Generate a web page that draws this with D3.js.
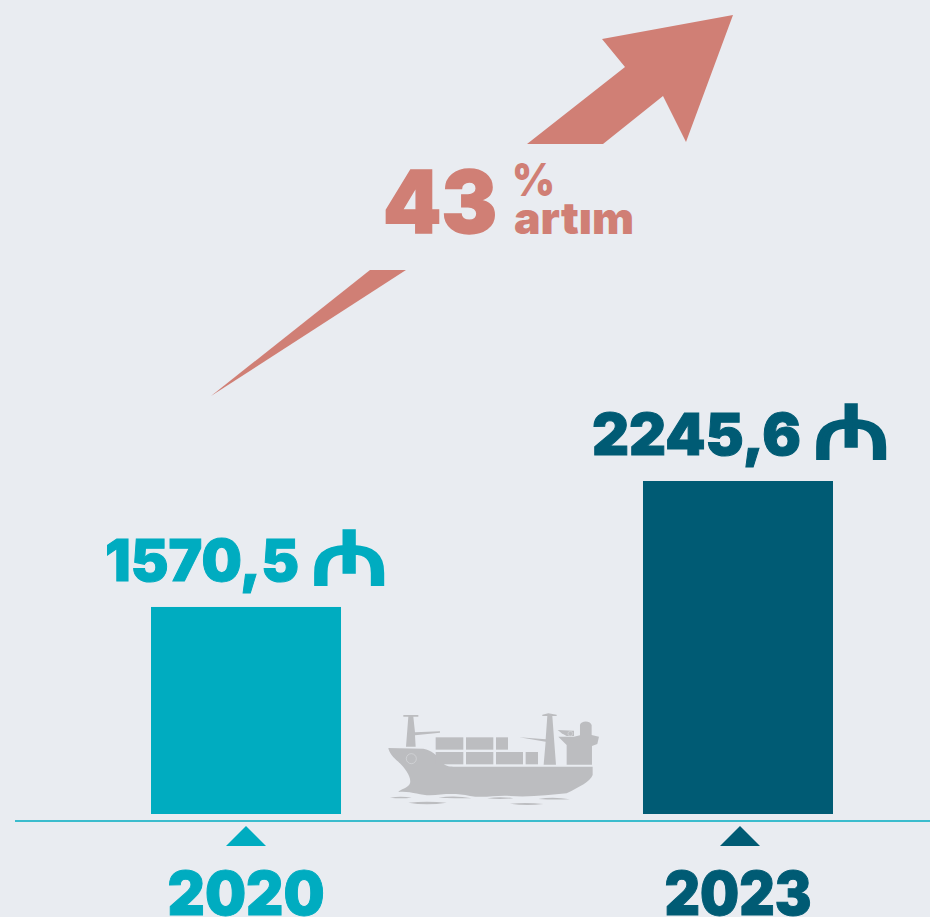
<!DOCTYPE html>
<meta charset="utf-8">
<style>
html, body { margin: 0; padding: 0; background: #e9ecf1; }
svg { display: block; }
text { font-family: Inter, "Noto Sans", sans-serif; font-weight: 900; }
</style>
<svg width="930" height="917"></svg>
<script src="https://cdn.jsdelivr.net/npm/d3@7"></script>
<script>

var years = ["2020", "2023"];
var values = [1570.5, 2245.6];
var valueLabels = ["1570,5", "2245,6"];
var barColors = ["#00acc0", "#005b74"];
var growthLabel = "43";

var svg = d3.select("svg");
var baseY = 814;

var x = d3.scaleBand().domain(years).range([151, 833]).paddingInner(0.6138);
// bars do not start from zero in the original
var y = d3.scaleLinear().domain([461, 2245.6]).range([baseY, 481]);

// rising arrow, split in two parts around the label
var arrowColor = "#d07f75";
svg.append("path").attr("fill", arrowColor)
    .attr("d", "M733,15L602,39L625,67L527,144L603,144L663,96L686,142Z");
svg.append("path").attr("fill", arrowColor)
    .attr("d", "M211,396L370,270L406,270Z");

var growth = svg.append("g").attr("fill", arrowColor).attr("stroke", arrowColor);
growth.append("text").attr("x", 383).attr("y", 232.5)
    .attr("font-size", 86).attr("stroke-width", 1.5)
    .attr("textLength", 114).attr("lengthAdjust", "spacingAndGlyphs")
    .text(growthLabel);
growth.append("text").attr("x", 512).attr("y", 196)
    .attr("font-size", 46).attr("stroke-width", 0)
    .attr("textLength", 43).attr("lengthAdjust", "spacingAndGlyphs")
    .text("%");
growth.append("text").attr("x", 514).attr("y", 234)
    .attr("font-size", 44).attr("stroke-width", 0)
    .attr("textLength", 120).attr("lengthAdjust", "spacingAndGlyphs")
    .text("artım");

// bars
svg.append("g").selectAll("rect")
    .data(years)
    .enter().append("rect")
      .attr("x", function(d) { return x(d); })
      .attr("y", function(d, i) { return y(values[i]); })
      .attr("width", x.bandwidth())
      .attr("height", function(d, i) { return baseY - y(values[i]); })
      .attr("fill", function(d, i) { return barColors[i]; });

// value labels with the manat sign
var labelWidths = [194, 209];
var labelOffsets = [-141, -146];
var label = svg.append("g").selectAll("g")
    .data(years)
    .enter().append("g")
      .attr("transform", function(d, i) {
        return "translate(" + (x(d) + x.bandwidth() / 2) + "," + (y(values[i]) - 26) + ")";
      })
      .attr("fill", function(d, i) { return barColors[i]; })
      .attr("stroke", function(d, i) { return barColors[i]; });

label.append("text")
    .attr("x", function(d, i) { return labelOffsets[i]; })
    .attr("font-size", 58)
    .attr("stroke-width", 1)
    .attr("textLength", function(d, i) { return labelWidths[i]; })
    .attr("lengthAdjust", "spacingAndGlyphs")
    .text(function(d, i) { return valueLabels[i]; });

label.append("text")
    .attr("x", function(d, i) { return labelOffsets[i] + labelWidths[i] + 12; })
    .attr("y", 3)
    .attr("font-size", 74)
    .attr("stroke-width", 1.5)
    .style("font-family", "DejaVu Sans")
    .style("font-weight", 700)
    .attr("textLength", 77)
    .attr("lengthAdjust", "spacingAndGlyphs")
    .text("₼");

// ship
var ship = svg.append("g").attr("fill", "#bcbdc0").attr("transform", "translate(370,690) scale(0.3333)");
ship.append("path").attr("d", "M55,174L160,176C185,180 200,195 215,215C225,228 235,230 250,230L668,230L668,255C660,275 630,290 590,310C540,315 480,322 420,318C380,315 340,325 300,318C260,308 220,312 180,316C150,316 120,302 85,306C90,298 115,295 120,280C125,260 105,235 85,215C70,203 58,190 55,174Z");
ship.append("path").attr("d", "M100,75L145,75L145,80L130,80L135,127L210,124L210,128L135,136L137,170L108,170L115,80L100,80Z");
ship.append("path").attr("d", "M517,74L535,70L560,74L560,78L547,78L558,224L521,224L527,155L448,142L527,148L532,78L517,78Z");
ship.append("path").attr("d", "M590,224L590,165L565,140L612,140L630,136L630,105C632,92 660,90 665,105L665,135L687,140L682,162L666,168L666,224Z");
ship.append("path").attr("d", "M563,120L612,122L612,138L590,138L575,130Z");
var containers = [[197,142,83,37],[288,142,82,37],[378,142,36,37],[197,186,83,37],[288,186,82,37],[378,186,81,37],[467,186,37,37]];
ship.selectAll("rect").data(containers).enter().append("rect")
    .attr("x", function(d) { return d[0]; }).attr("y", function(d) { return d[1]; })
    .attr("width", function(d) { return d[2]; }).attr("height", function(d) { return d[3]; });
ship.append("path").attr("d", "M60,323Q92,317 125,323Q92,327 60,323ZM115,338Q170,333 230,338Q170,347 115,338ZM205,323Q255,315 305,325Q255,325 205,323ZM352,325Q390,318 430,325Q390,329 352,325ZM420,341Q470,336 520,342Q470,349 420,341ZM505,327Q550,319 600,328Q550,330 505,327Z");
ship.selectAll("circle").data([[124,206,15],[601,131,7]]).enter().append("circle")
    .attr("cx", function(d) { return d[0]; }).attr("cy", function(d) { return d[1]; }).attr("r", function(d) { return d[2]; })
    .attr("fill", "none").attr("stroke", "#d8dadd").attr("stroke-width", 2);

// baseline, tick markers and year labels
svg.append("line")
    .attr("x1", 15).attr("x2", 930).attr("y1", 821).attr("y2", 821)
    .attr("stroke", "#00acc0").attr("stroke-width", 1.6);

var tickNudge = [0, 2];
svg.append("g").selectAll("path")
    .data(years)
    .enter().append("path")
      .attr("d", d3.symbol(d3.symbolTriangle, 693))
      .attr("transform", function(d, i) {
        return "translate(" + (x(d) + x.bandwidth() / 2 + tickNudge[i]) + ",839.3) scale(1,0.578)";
      })
      .attr("fill", function(d, i) { return barColors[i]; });

var yearWidths = [157, 147];
var axis = svg.append("g")
    .attr("transform", "translate(0,821)")
    .call(d3.axisBottom(x).tickSize(0).tickPadding(48));
axis.select(".domain").remove();
axis.selectAll("text")
    .attr("dy", null).attr("y", 93.5)
    .style("font-size", "60px")
    .attr("stroke-width", 1)
    .attr("textLength", function(d, i) { return yearWidths[i]; })
    .attr("lengthAdjust", "spacingAndGlyphs")
    .attr("stroke", function(d, i) { return barColors[i]; })
    .attr("fill", function(d, i) { return barColors[i]; });

</script>
